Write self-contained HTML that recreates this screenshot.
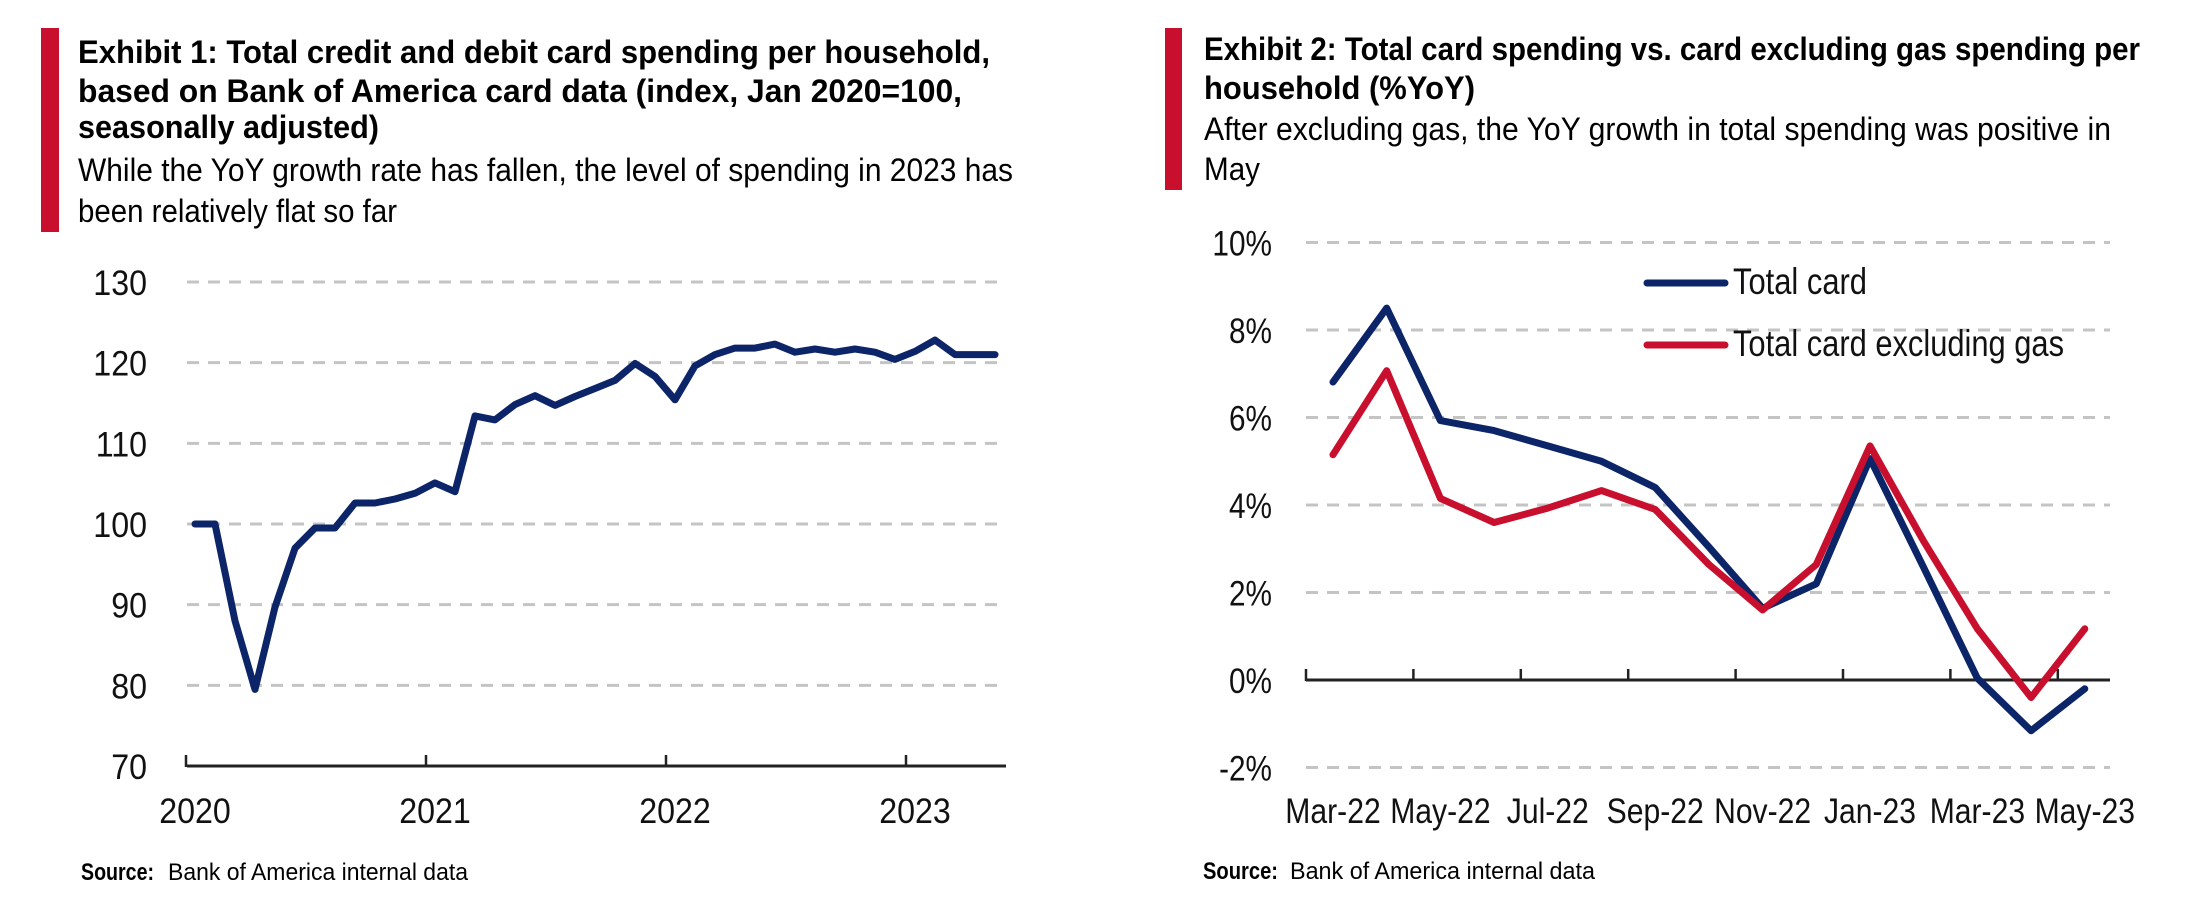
<!DOCTYPE html>
<html><head><meta charset="utf-8"><style>
html,body{margin:0;padding:0;background:#fff;}
svg{display:block;font-family:"Liberation Sans",sans-serif;}
</style></head><body>
<svg id="root" width="2212" height="916" viewBox="0 0 2212 916">
 <g>
  <rect x="41" y="28" width="18" height="204" fill="#c8102e"/>
  <text x="78" y="63" font-size="32" font-weight="bold" textLength="912" lengthAdjust="spacingAndGlyphs">Exhibit 1: Total credit and debit card spending per household,</text>
  <text x="78" y="102" font-size="32" font-weight="bold" textLength="884" lengthAdjust="spacingAndGlyphs">based on Bank of America card data (index, Jan 2020=100,</text>
  <text x="78" y="138" font-size="32" font-weight="bold" textLength="301" lengthAdjust="spacingAndGlyphs">seasonally adjusted)</text>
  <text x="78" y="181" font-size="32" textLength="935" lengthAdjust="spacingAndGlyphs">While the YoY growth rate has fallen, the level of spending in 2023 has</text>
  <text x="78" y="222" font-size="32" textLength="319" lengthAdjust="spacingAndGlyphs">been relatively flat so far</text>
 </g>
 <g id="c1"></g>
 <g>
  <text x="81" y="880" font-size="24" font-weight="bold" textLength="73" lengthAdjust="spacingAndGlyphs">Source:</text>
  <text x="168" y="880" font-size="24" textLength="300" lengthAdjust="spacingAndGlyphs">Bank of America internal data</text>
 </g>

 <g>
  <rect x="1165" y="28" width="17" height="162" fill="#c8102e"/>
  <text x="1204" y="60" font-size="32" font-weight="bold" textLength="936" lengthAdjust="spacingAndGlyphs">Exhibit 2: Total card spending vs. card excluding gas spending per</text>
  <text x="1204" y="99" font-size="32" font-weight="bold" textLength="271" lengthAdjust="spacingAndGlyphs">household (%YoY)</text>
  <text x="1204" y="140" font-size="32" textLength="907" lengthAdjust="spacingAndGlyphs">After excluding gas, the YoY growth in total spending was positive in</text>
  <text x="1204" y="180" font-size="32" textLength="56" lengthAdjust="spacingAndGlyphs">May</text>
 </g>
 <g id="c2"></g>
 <g>
  <text x="1203" y="879" font-size="24" font-weight="bold" textLength="75" lengthAdjust="spacingAndGlyphs">Source:</text>
  <text x="1290" y="879" font-size="24" textLength="305" lengthAdjust="spacingAndGlyphs">Bank of America internal data</text>
 </g>
</svg>
<script>
// Exhibit 1 data
const c1Values = [100,100,88,79.5,89.7,97,99.5,99.5,102.6,102.6,103.1,103.8,
 105.1,104,113.4,112.9,114.8,115.9,114.7,115.8,116.8,117.8,119.9,118.3,
 115.4,119.6,121.0,121.8,121.8,122.3,121.3,121.7,121.3,121.7,121.3,120.4,
 121.4,122.8,121.0,121.0,121.0];
const c1YTicks = [70,80,90,100,110,120,130];
const c1YearLabels = ["2020","2021","2022","2023"];
// Exhibit 2 data
const c2Months = ["Mar-22","Apr-22","May-22","Jun-22","Jul-22","Aug-22","Sep-22","Oct-22","Nov-22","Dec-22","Jan-23","Feb-23","Mar-23","Apr-23","May-23"];
const c2Total = [6.81,8.5,5.93,5.7,5.35,5.0,4.4,3.04,1.64,2.2,5.06,2.57,0.04,-1.16,-0.2];
const c2ExGas = [5.15,7.07,4.15,3.6,3.93,4.33,3.9,2.64,1.6,2.64,5.35,3.17,1.17,-0.4,1.17];
const c2YTicks = [-2,0,2,4,6,8,10];
const c2SeriesNames = ["Total card","Total card excluding gas"];

const NS="http://www.w3.org/2000/svg";
function mk(parent,tag,attrs,text){const e=document.createElementNS(NS,tag);for(const k in attrs)e.setAttribute(k,attrs[k]);if(text!==undefined)e.textContent=text;parent.appendChild(e);return e;}
function condense(el,f){const w=el.getComputedTextLength();el.setAttribute('textLength',(w*f).toFixed(1));el.setAttribute('lengthAdjust','spacingAndGlyphs');}
const NAVY="#0c2468", RED="#c8102e", GRID="#c4c4c4";

// ---- Chart 1 ----
(function(){
 const g=document.getElementById('c1');
 const y=v=>766-(v-70)*(484/60);
 const x=i=>195+i*20.0;
 const gl=187, gr=1006;
 c1YTicks.forEach(t=>{
  if(t!==70){
   const l=mk(g,'line',{x1:gl,x2:gr,y1:y(t),y2:y(t),stroke:GRID,"stroke-width":3,"stroke-dasharray":"12 9"});
   
   
  }
  const tx=mk(g,'text',{x:147,y:y(t)+13,"font-size":35,"text-anchor":"end",fill:"#111"},String(t));
  
  
  condense(tx,0.92);
 });
 const ax=mk(g,'line',{x1:187,x2:gr,y1:766,y2:766,stroke:"#222","stroke-width":3});
 
 
 c1YearLabels.forEach((lab,k)=>{
  const tx0=x(k*12)-9;
  const tk=mk(g,'line',{x1:tx0,x2:tx0,y1:755,y2:767,stroke:"#222","stroke-width":2.5});
  
  
  const t=mk(g,'text',{x:tx0+9,y:823,"font-size":35,"text-anchor":"middle",fill:"#111"},lab);
  
  
  condense(t,0.92);
 });
 const pts=c1Values.map((v,i)=>x(i).toFixed(1)+","+y(v).toFixed(1)).join(" ");
 const pl=mk(g,'polyline',{points:pts,fill:"none",stroke:NAVY,"stroke-width":7,"stroke-linejoin":"round","stroke-linecap":"round"});
 
 
})();

// ---- Chart 2 ----
(function(){
 const g=document.getElementById('c2');
 const y=v=>680-v*43.75;
 const x=i=>1333+i*53.7;
 const gl=1306, gr=2110;
 c2YTicks.forEach(t=>{
  if(t!==0){
   const l=mk(g,'line',{x1:gl,x2:gr,y1:y(t),y2:y(t),stroke:GRID,"stroke-width":3,"stroke-dasharray":"12 9"});
   
   
  }
  const lab=t+"%";
  const tx=mk(g,'text',{x:1272,y:y(t)+13,"font-size":35,"text-anchor":"end",fill:"#111"},lab);
  
  
  condense(tx,0.85);
 });
 const ax=mk(g,'line',{x1:gl,x2:gr,y1:y(0),y2:y(0),stroke:"#222","stroke-width":3});
 
 
 c2Months.forEach((m,i)=>{
  if(i%2!==0)return;
  const tx0=x(i)-27;
  const tk=mk(g,'line',{x1:tx0,x2:tx0,y1:y(0)-11,y2:y(0)+1,stroke:"#222","stroke-width":2.5});
  
  
  const t=mk(g,'text',{x:x(i),y:823,"font-size":35,"text-anchor":"middle",fill:"#111"},m);
  
  
  condense(t,0.86);
 });
 const p1=mk(g,'polyline',{points:c2Total.map((v,i)=>x(i).toFixed(1)+","+y(v).toFixed(1)).join(" "),fill:"none",stroke:NAVY,"stroke-width":7,"stroke-linejoin":"round","stroke-linecap":"round"});
 
 
 const p2=mk(g,'polyline',{points:c2ExGas.map((v,i)=>x(i).toFixed(1)+","+y(v).toFixed(1)).join(" "),fill:"none",stroke:RED,"stroke-width":7,"stroke-linejoin":"round","stroke-linecap":"round"});
 
 
 // legend
 const lg=mk(g,'g',{});
 
 
 const cols=[NAVY,RED], ly=[283,345], lw=[134,331];
 c2SeriesNames.forEach((n,k)=>{
  const sw=mk(lg,'line',{x1:1647,x2:1725,y1:ly[k],y2:ly[k],stroke:cols[k],"stroke-width":7,"stroke-linecap":"round"});
  
  
  const t=mk(lg,'text',{x:1733,y:ly[k]+11,"font-size":37,fill:"#111",textLength:lw[k],lengthAdjust:"spacingAndGlyphs"},n);
  
  
 });
})();
</script>
</body></html>
